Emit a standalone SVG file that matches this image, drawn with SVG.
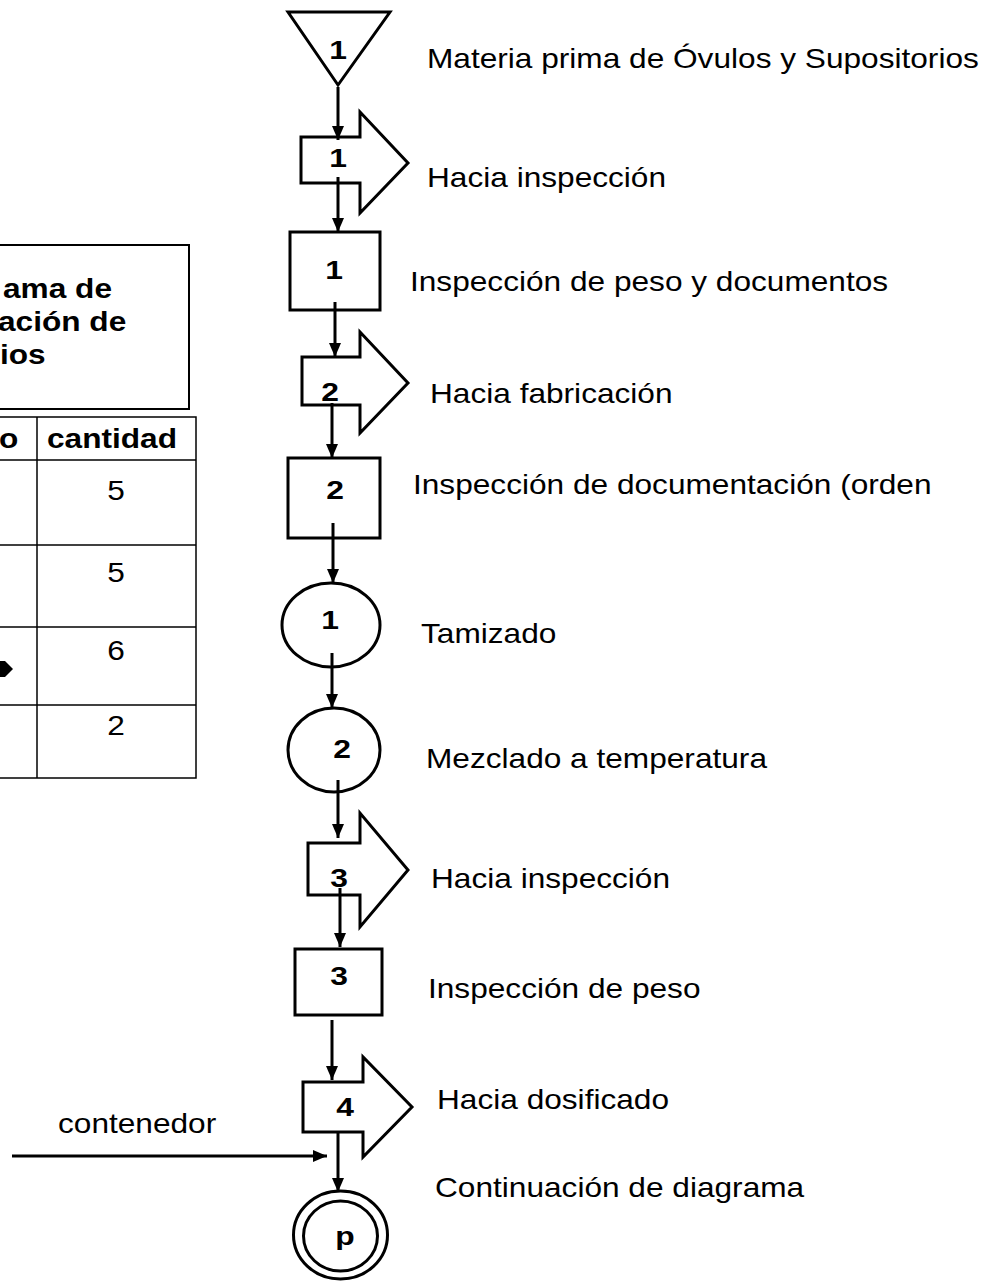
<svg xmlns="http://www.w3.org/2000/svg" width="992" height="1281" viewBox="0 0 992 1281">
<defs>
<style>
.bg{fill:#ffffff}
.shape{fill:none;stroke:#000;stroke-width:3;stroke-linejoin:miter}
.conn{stroke:#000;stroke-width:3;fill:none}
.tbl{stroke:#000;stroke-width:1.5;fill:none}
.box{stroke:#000;stroke-width:2;fill:none}
.lbl{font-family:"Liberation Sans",Arial,sans-serif;font-size:28.5px;fill:#000}
.num{font-family:"Liberation Sans",Arial,sans-serif;font-size:26.5px;font-weight:bold;fill:#000;text-anchor:middle}
.hdr{font-family:"Liberation Sans",Arial,sans-serif;font-size:28.5px;font-weight:bold;fill:#000}
.val{font-family:"Liberation Sans",Arial,sans-serif;font-size:28.5px;fill:#000;text-anchor:middle}
</style>
<marker id="ah" markerUnits="userSpaceOnUse" markerWidth="14" markerHeight="12" refX="14" refY="6" orient="auto">
<path d="M0,0 L14,6 L0,12 z" fill="#000"/>
</marker>
</defs>
<rect class="bg" x="0" y="0" width="992" height="1281"/>

<g id="legend">
<rect class="box" x="-5" y="245" width="194" height="164"/>
<text class="hdr" transform="translate(3,298) scale(1.11,1)">ama de</text>
<text class="hdr" transform="translate(-2,331) scale(1.11,1)">ación de</text>
<text class="hdr" transform="translate(0,364) scale(1.11,1)">ios</text>
</g>

<g id="table">
<rect class="tbl" x="-5" y="417" width="201" height="361"/>
<line class="tbl" x1="37" y1="417" x2="37" y2="778"/>
<line class="tbl" x1="-5" y1="460" x2="196" y2="460"/>
<line class="tbl" x1="-5" y1="545" x2="196" y2="545"/>
<line class="tbl" x1="-5" y1="627" x2="196" y2="627"/>
<line class="tbl" x1="-5" y1="705" x2="196" y2="705"/>
<text class="hdr" transform="translate(-1,448) scale(1.11,1)">o</text>
<text class="hdr" transform="translate(47,448) scale(1.11,1)">cantidad</text>
<text class="val" transform="translate(116,500) scale(1.11,1)">5</text>
<text class="val" transform="translate(116,582) scale(1.11,1)">5</text>
<text class="val" transform="translate(116,660) scale(1.11,1)">6</text>
<text class="val" transform="translate(116,735) scale(1.11,1)">2</text>
<polygon points="0,661 5,661 13,669 5,677 0,677" fill="#000"/>
</g>

<g id="connectors">
<line class="conn" x1="338" y1="87" x2="338" y2="140" marker-end="url(#ah)"/>
<line class="conn" x1="338" y1="177" x2="338" y2="232" marker-end="url(#ah)"/>
<line class="conn" x1="335" y1="302" x2="335" y2="357" marker-end="url(#ah)"/>
<line class="conn" x1="332" y1="403" x2="332" y2="458" marker-end="url(#ah)"/>
<line class="conn" x1="333" y1="523" x2="333" y2="583" marker-end="url(#ah)"/>
<line class="conn" x1="332" y1="653" x2="332" y2="708" marker-end="url(#ah)"/>
<line class="conn" x1="338" y1="780" x2="338" y2="838" marker-end="url(#ah)"/>
<line class="conn" x1="340" y1="888" x2="340" y2="947" marker-end="url(#ah)"/>
<line class="conn" x1="332" y1="1020" x2="332" y2="1080" marker-end="url(#ah)"/>
<line class="conn" x1="338" y1="1132" x2="338" y2="1192" marker-end="url(#ah)"/>
<line class="conn" x1="12" y1="1156" x2="327" y2="1156" marker-end="url(#ah)"/>
</g>

<g id="n1-storage">
<polygon class="shape" points="288,12 390,12 338,85"/>
<text class="num" transform="translate(338,59) scale(1.2,1)">1</text>
</g>
<g id="n2-transport">
<polygon class="shape" points="301,137 360,137 360,112 408,163 360,213 360,183 301,183"/>
<text class="num" transform="translate(338,167) scale(1.2,1)">1</text>
</g>
<g id="n3-inspection">
<rect class="shape" x="290" y="232" width="90" height="78"/>
<text class="num" transform="translate(334,279) scale(1.2,1)">1</text>
</g>
<g id="n4-transport">
<polygon class="shape" points="302,357 360,357 360,332 408,383 360,433 360,405 302,405"/>
<text class="num" transform="translate(330,401) scale(1.2,1)">2</text>
</g>
<g id="n5-inspection">
<rect class="shape" x="288" y="458" width="92" height="80"/>
<text class="num" transform="translate(335,499) scale(1.2,1)">2</text>
</g>
<g id="n6-operation">
<ellipse class="shape" cx="331" cy="625" rx="49" ry="42"/>
<text class="num" transform="translate(330,629) scale(1.2,1)">1</text>
</g>
<g id="n7-operation">
<ellipse class="shape" cx="334" cy="750" rx="46" ry="42"/>
<text class="num" transform="translate(342,758) scale(1.2,1)">2</text>
</g>
<g id="n8-transport">
<polygon class="shape" points="308,843 360,843 360,813 408,870 360,927 360,895 308,895"/>
<text class="num" transform="translate(339,887) scale(1.2,1)">3</text>
</g>
<g id="n9-inspection">
<rect class="shape" x="295" y="949" width="87" height="66"/>
<text class="num" transform="translate(339,985) scale(1.2,1)">3</text>
</g>
<g id="n10-transport">
<polygon class="shape" points="303,1082 363,1082 363,1057 412,1107 363,1157 363,1132 303,1132"/>
<text class="num" transform="translate(345,1116) scale(1.2,1)">4</text>
</g>
<g id="n11-connector">
<ellipse class="shape" cx="340.5" cy="1235" rx="47" ry="44"/>
<ellipse class="shape" cx="340.5" cy="1236" rx="37" ry="35"/>
<text class="num" transform="translate(345,1245) scale(1.2,1)">p</text>
</g>

<g id="labels">
<text class="lbl" transform="translate(427,68) scale(1.11,1)">Materia prima de Óvulos y Supositorios</text>
<text class="lbl" transform="translate(427,187) scale(1.11,1)">Hacia inspección</text>
<text class="lbl" transform="translate(410,291) scale(1.11,1)">Inspección de peso y documentos</text>
<text class="lbl" transform="translate(430,403) scale(1.11,1)">Hacia fabricación</text>
<text class="lbl" transform="translate(413,494) scale(1.11,1)">Inspección de documentación (orden</text>
<text class="lbl" transform="translate(421,643) scale(1.11,1)">Tamizado</text>
<text class="lbl" transform="translate(426,768) scale(1.11,1)">Mezclado a temperatura</text>
<text class="lbl" transform="translate(431,888) scale(1.11,1)">Hacia inspección</text>
<text class="lbl" transform="translate(428,998) scale(1.11,1)">Inspección de peso</text>
<text class="lbl" transform="translate(437,1109) scale(1.11,1)">Hacia dosificado</text>
<text class="lbl" transform="translate(435,1197) scale(1.11,1)">Continuación de diagrama</text>
<text class="lbl" transform="translate(58,1133) scale(1.11,1)">contenedor</text>
</g>
</svg>
